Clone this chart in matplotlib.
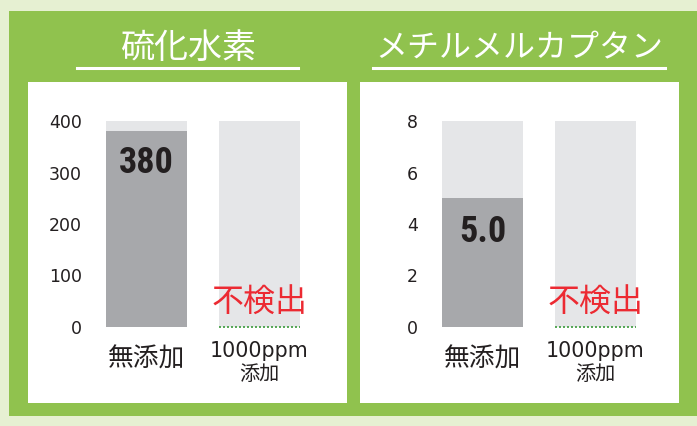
import matplotlib
matplotlib.use("Agg")
import matplotlib.pyplot as plt
from matplotlib.patches import Rectangle
from matplotlib.lines import Line2D
import matplotlib.transforms as mtransforms
from matplotlib import font_manager

plt.rcParams['font.family'] = ['DejaVu Sans', 'Noto Sans CJK JP']

# ---- data ----
titles = ["硫化水素", "メチルメルカプタン"]
categories = ["無添加", "1000ppm"]
cat_sub = ["", "添加"]
values_h2s = [380, 0]
values_mm = [5.0, 0]
value_labels_h2s = ["380", None]
value_labels_mm = ["5.0", None]
ymax_h2s = 400
ymax_mm = 8
yticks_h2s = [0, 100, 200, 300, 400]
yticks_mm = [0, 2, 4, 6, 8]
not_detected = "不検出"

W, H = 697, 426
fig = plt.figure(figsize=(W / 100, H / 100), dpi=100)
fig.patch.set_facecolor("#e6f0d2")
CJK = ['Noto Sans CJK JP', 'DejaVu Sans']
TXT = "#231f20"

names = {f.name for f in font_manager.fontManager.ttflist}
if 'Roboto Condensed' in names:
    VAL_FAMILY, VAL_SIZE = 'Roboto Condensed', 26
else:
    VAL_FAMILY, VAL_SIZE = 'Roboto', 23


def fr(x0, y0, x1, y1):
    """pixel box (top-left origin) -> figure fraction rect"""
    return [x0 / W, 1 - y1 / H, (x1 - x0) / W, (y1 - y0) / H]


# green panel
fig.patches.append(Rectangle((9 / W, 1 - 416 / H), (W - 9) / W, (416 - 11) / H,
                             transform=fig.transFigure, facecolor="#90c24e",
                             edgecolor="none", zorder=-2))
# white panels
for (x0, x1) in [(28, 347), (360, 679)]:
    fig.patches.append(Rectangle((x0 / W, 1 - 403 / H), (x1 - x0) / W, (403 - 82) / H,
                                 transform=fig.transFigure, facecolor="white",
                                 edgecolor="none", zorder=-1))

# titles and underlines
title_cfg = [(188, 77, 298, 24.5), (519, 373, 665, 23)]
for t, (cx, lx0, lx1, fs) in zip(titles, title_cfg):
    fig.text(cx / W, 1 - 48.5 / H, t, color="white", fontsize=fs,
             ha="center", va="center", family=CJK)
    fig.add_artist(Line2D([lx0 / W, lx1 / W], [1 - 68 / H, 1 - 68 / H],
                          transform=fig.transFigure, color="white", lw=2.2))

DARK = "#a7a8ab"
LIGHT = "#e5e6e8"
RED = "#ec2a32"

panels = [
    (fr(90, 121, 316, 327), values_h2s, value_labels_h2s, ymax_h2s, yticks_h2s, 173),
    (fr(426, 121, 652, 327), values_mm, value_labels_mm, ymax_mm, yticks_mm, 242),
]

for rect, vals, vlabels, ymax, yticks, lab_y in panels:
    ax = fig.add_axes(rect)
    ax.set_zorder(1)
    ax.set_facecolor("none")
    x = list(range(len(categories)))
    width = 81 / 113
    ax.bar(x, [ymax] * len(x), width=width, color=LIGHT, zorder=1)
    ax.bar(x, vals, width=width, color=DARK, zorder=2)
    ax.set_xlim(-0.5, 1.5)
    ax.set_ylim(0, ymax)
    ax.set_yticks(yticks)
    ax.set_yticklabels([str(v) for v in yticks], fontsize=12.5, color=TXT)
    ax.tick_params(axis="y", length=0, pad=6)
    ax.set_xticks([])
    for s in ax.spines.values():
        s.set_visible(False)
    # value labels / not-detected
    ylab_val = ymax * (327 - lab_y) / 206
    for xi, v, lab in zip(x, vals, vlabels):
        if lab is not None:
            ax.text(xi, ylab_val, lab, ha="center", va="baseline", fontsize=VAL_SIZE,
                    fontweight="bold", color=TXT, family=VAL_FAMILY, zorder=3)
        if v == 0:
            ax.text(xi, ymax * 24 / 206, not_detected, ha="center", va="center",
                    fontsize=23, color=RED, zorder=3, family=CJK)
            ax.plot([xi - width / 2, xi + width / 2], [0, 0], color="#3a9a3a",
                    lw=1.2, ls=(0, (1.2, 1.2)), zorder=4, clip_on=False)
    # category labels
    trans = mtransforms.blended_transform_factory(ax.transData, ax.transAxes)
    for xi, c, sub in zip(x, categories, cat_sub):
        if sub:
            ax.text(xi, -(357 - 327) / 206, c, transform=trans, ha="center",
                    va="baseline", fontsize=14.8, color=TXT)
            ax.text(xi, -(375 - 327) / 206, sub, transform=trans, ha="center",
                    va="center", fontsize=14.5, color=TXT, family=CJK)
        else:
            ax.text(xi, -(360 - 327) / 206, c, transform=trans, ha="center",
                    va="center", fontsize=18.5, color=TXT, family=CJK)

fig.savefig("out.png", dpi=100)
